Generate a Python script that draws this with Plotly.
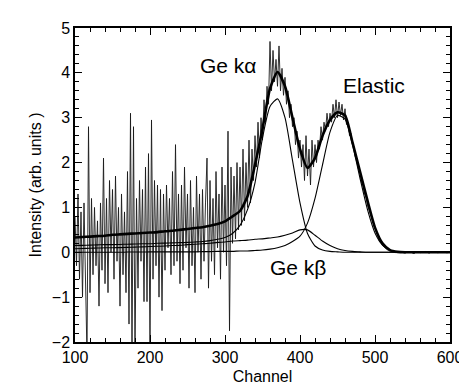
import plotly.graph_objects as go

# ---- measured data (noisy spectrum) ----
data_ch = list(range(100, 342, 2)) + list(range(342, 522, 2)) + list(range(524, 604, 4))
data_low = [0.8, -0.3, 1.3, -0.6, 0.9, -1.0, 1.1, -0.4, -2.3, 2.8,
            -0.9, 1.2, -0.5, 1.0, -0.3, 0.7, -1.2, 1.1, -0.4, 2.1,
            -0.7, 1.2, -0.9, 1.6, 0.0, 1.4, -0.6, 1.7, -0.2, 1.0,
            -1.2, 1.3, -0.5, 0.9, -0.9, 1.8, -1.6, 3.1, -2.3, 2.8,
            -2.3, 1.2, -0.8, 1.6, -0.2, 1.4, -1.1, 1.9, -1.1, 2.2,
            -2.2, 2.95, -0.6, 1.6, -0.3, 1.5, -1.0, 1.4, -1.3, 1.3,
            -0.4, 1.5, 0.1, 1.2, -0.5, 1.8, -0.3, 2.4, -0.2, 1.3,
            -0.7, 1.5, -0.4, 1.9, 0.1, 1.3, -0.8, 1.6, -0.3, 1.0,
            -0.9, 1.7, 0.0, 1.3, -0.6, 1.4, -0.2, 1.1, 2.1, -0.8,
            1.6, -0.2, 1.2, -0.5, 1.8, 0.1, 1.3, -0.6, 1.9, 0.0,
            1.5, -0.3, 2.7, -1.75, 1.9, 0.2, 1.7, 0.3, 2.0, 0.5,
            1.9, 0.6, 2.3, 0.7, 2.0, 1.0, 2.5, 1.1, 2.3, 1.6,
            2.6]
data_peak = [1.9, 2.9, 2.1, 3.0, 2.5, 3.4, 2.9, 3.7, 3.3, 4.7,
             3.6, 4.5, 3.8, 4.3, 3.7, 4.6, 3.6, 4.1, 3.5, 3.9,
             3.3, 3.6, 3.0, 3.3, 2.8, 3.0, 2.4, 2.7, 2.1, 2.5,
             1.9, 2.4, 1.6, 2.6, 1.7, 2.3, 1.5, 2.5, 1.9, 2.4,
             2.0, 2.5, 2.3, 2.8, 2.5, 2.9, 2.7, 3.1, 2.8, 3.1,
             2.9, 3.3, 3.0, 3.4, 3.0, 3.35, 3.05, 3.3, 2.95, 3.2,
             2.85, 2.9, 2.6, 2.65, 2.4, 2.35, 2.1, 2.1, 1.85, 1.8,
             1.55, 1.5, 1.3, 1.25, 1.05, 0.95, 0.8, 0.75, 0.6, 0.55,
             0.4, 0.35, 0.25, 0.22, 0.15, 0.12, 0.08, 0.06, 0.04, 0.03]
data_tail = [0.02, -0.01, 0.02, 0.0, -0.02, 0.01, 0.0, -0.03, 0.02, -0.01,
             0.0, 0.02, -0.02, 0.01, 0.0, -0.01, 0.01, 0.0, -0.01, 0.0]
data_val = data_low + data_peak + data_tail

# ---- fitted curves (read every 10 channels) ----
fit_ch = list(range(100, 610, 10))
total_fit = [0.33, 0.34, 0.35, 0.36, 0.37, 0.39, 0.40, 0.41, 0.42, 0.43,
             0.44, 0.45, 0.47, 0.48, 0.50, 0.52, 0.54, 0.56, 0.59, 0.63,
             0.69, 0.80, 0.92, 1.25, 1.95, 2.75, 3.65, 4.02, 3.70, 3.00,
             2.30, 1.88, 2.10, 2.60, 2.95, 3.12, 3.05, 2.45, 1.80, 1.15,
             0.55, 0.20, 0.05, 0.01, 0.0, 0.0, 0.0, 0.0, 0.0, 0.0, 0.0]
ge_ka = [0.15, 0.155, 0.16, 0.165, 0.17, 0.17, 0.175, 0.18, 0.185, 0.19,
         0.19, 0.20, 0.205, 0.21, 0.215, 0.22, 0.23, 0.24, 0.26, 0.29,
         0.33, 0.42, 0.60, 0.95, 1.55, 2.55, 3.25, 3.42, 3.00, 2.05,
         1.10, 0.42, 0.14, 0.05, 0.02, 0.01, 0.0, 0.0, 0.0, 0.0,
         0.0, 0.0, 0.0, 0.0, 0.0, 0.0, 0.0, 0.0, 0.0, 0.0, 0.0]
ge_kb = [0.08, 0.085, 0.09, 0.095, 0.10, 0.10, 0.105, 0.11, 0.115, 0.12,
         0.13, 0.135, 0.14, 0.15, 0.155, 0.17, 0.18, 0.19, 0.20, 0.22,
         0.23, 0.25, 0.26, 0.27, 0.29, 0.30, 0.32, 0.34, 0.38, 0.43,
         0.50, 0.50, 0.38, 0.25, 0.15, 0.08, 0.04, 0.02, 0.01, 0.0,
         0.0, 0.0, 0.0, 0.0, 0.0, 0.0, 0.0, 0.0, 0.0, 0.0, 0.0]
elastic = [0.0, 0.0, 0.0, 0.0, 0.0, 0.0, 0.0, 0.005, 0.005, 0.005,
           0.01, 0.01, 0.01, 0.01, 0.01, 0.01, 0.01, 0.015, 0.015, 0.02,
           0.02, 0.02, 0.03, 0.03, 0.04, 0.05, 0.07, 0.10, 0.15, 0.24,
           0.36, 0.65, 1.20, 1.95, 2.68, 3.05, 2.97, 2.40, 1.65, 0.95,
           0.43, 0.16, 0.05, 0.01, 0.0, 0.0, 0.0, 0.0, 0.0, 0.0, 0.0]

x_ticks = [100, 200, 300, 400, 500, 600]
y_ticks = [-2, -1, 0, 1, 2, 3, 4, 5]

fig = go.Figure()
fig.add_trace(go.Scatter(x=data_ch, y=data_val, mode="lines",
                         line=dict(color="rgba(25,25,25,0.9)", width=1.0)))
for comp in (ge_ka, ge_kb, elastic):
    fig.add_trace(go.Scatter(x=fit_ch, y=comp, mode="lines",
                             line=dict(color="black", width=1.1, shape="spline", smoothing=0.6)))
fig.add_trace(go.Scatter(x=fit_ch, y=total_fit, mode="lines",
                         line=dict(color="black", width=2.6, shape="spline", smoothing=0.6)))

font = "Liberation Sans, Arial, Helvetica, sans-serif"
axis_common = dict(showgrid=False, zeroline=False, showline=True, linecolor="black",
                   linewidth=1.5, mirror="allticks", ticks="inside", ticklen=7,
                   tickwidth=1.3, tickcolor="black",
                   tickfont=dict(family=font, size=16, color="black"))
fig.update_xaxes(range=[100, 600], tickvals=x_ticks,
                 minor=dict(dtick=20, tick0=100, ticks="inside", ticklen=4, tickcolor="black", tickwidth=1),
                 title=dict(text="Channel", font=dict(family=font, size=16, color="black"), standoff=6),
                 **axis_common)
fig.update_yaxes(range=[-2, 5], tickvals=y_ticks,
                 minor=dict(dtick=0.2, tick0=0, ticks="inside", ticklen=4, tickcolor="black", tickwidth=1),
                 title=dict(text="Intensity (arb. units )", font=dict(family=font, size=16, color="black"), standoff=6),
                 **axis_common)

ann_font = dict(family=font, size=21, color="black")
fig.add_annotation(x=305, y=4.17, text="Ge kα", showarrow=False, font=ann_font)
fig.add_annotation(x=498, y=3.72, text="Elastic", showarrow=False, font=ann_font)
fig.add_annotation(x=397, y=-0.35, text="Ge kβ", showarrow=False, font=ann_font)

fig.update_layout(width=467, height=387, margin=dict(l=67, r=15, t=17, b=45),
                  paper_bgcolor="white", plot_bgcolor="white", showlegend=False)
fig.write_html("out.html")
